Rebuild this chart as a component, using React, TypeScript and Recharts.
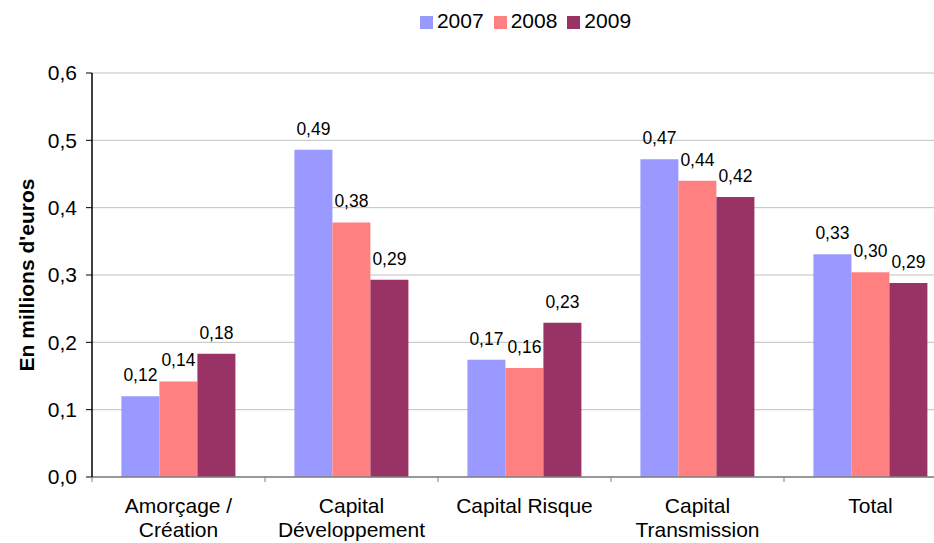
import { BarChart, Bar, XAxis, YAxis, CartesianGrid, Legend, LabelList } from "recharts";

const categories = [
  "Amorçage /\nCréation",
  "Capital\nDéveloppement",
  "Capital Risque",
  "Capital\nTransmission",
  "Total",
];
const values2007 = [0.12, 0.486, 0.174, 0.472, 0.331];
const values2008 = [0.142, 0.378, 0.162, 0.44, 0.304];
const values2009 = [0.183, 0.293, 0.229, 0.416, 0.288];
const yTicks = [0, 0.1, 0.2, 0.3, 0.4, 0.5, 0.6];

const chartData = categories.map((name, i) => ({
  name,
  y2007: values2007[i],
  y2008: values2008[i],
  y2009: values2009[i],
}));

const FONT = "Arial, 'Liberation Sans', sans-serif";
const CHART_W = 960;
const CHART_H = 543;
const MARGIN = { top: 73, right: 3, left: 0, bottom: 6 };
const Y_W = 92;
const BAND = (CHART_W - MARGIN.left - MARGIN.right - Y_W) / categories.length;

const fr = (v: number, d: number) => v.toFixed(d).replace(".", ",");

function CategoryTick(props: any) {
  const { x, y, payload } = props;
  const lines = String(payload.value).split("\n");
  return (
    <g>
      <line x1={x - BAND / 2} x2={x - BAND / 2} y1={y} y2={y + 5} stroke="#808080" />
      <text x={x} y={y} textAnchor="middle" fontSize={21} fontFamily={FONT} fill="#000">
        {lines.map((l, i) => (
          <tspan key={i} x={x} y={y + 36 + i * 24}>
            {l}
          </tspan>
        ))}
      </text>
    </g>
  );
}

function ValueLabel(props: any) {
  const { x, y, width, value } = props;
  return (
    <text x={x + width / 2} y={y - 15} textAnchor="middle" fontSize={17.5} fontFamily={FONT} fill="#000">
      {fr(Number(value), 2)}
    </text>
  );
}

function YTitle(props: any) {
  const vb = props.viewBox || { x: 0, y: 73, height: 404 };
  const cx = 26;
  const cy = vb.y + vb.height / 2;
  return (
    <text
      x={cx}
      y={cy}
      transform={`rotate(-90, ${cx}, ${cy})`}
      textAnchor="middle"
      dominantBaseline="central"
      fontSize={21}
      fontWeight="bold"
      fontFamily={FONT}
      fill="#000"
    >
      En millions d'euros
    </text>
  );
}

export default function App() {
  return (
    <div
      style={{
        position: "absolute",
        left: 0,
        top: 0,
        width: 934,
        height: 543,
        overflow: "hidden",
        background: "#fff",
      }}
    >
      <BarChart
        width={CHART_W}
        height={CHART_H}
        data={chartData}
        margin={MARGIN}
        barCategoryGap="17%"
        barGap={0}
        style={{ fontFamily: FONT }}
      >
        <CartesianGrid stroke="#c0c0c0" vertical={false} />
        <XAxis
          dataKey="name"
          interval={0}
          height={60}
          tickSize={0}
          tickMargin={0}
          tick={<CategoryTick />}
          axisLine={{ stroke: "#808080", strokeWidth: 1.5 }}
        />
        <YAxis
          width={Y_W}
          domain={[0, 0.6]}
          ticks={yTicks}
          tickFormatter={(v: number) => fr(v, 1)}
          tickSize={6}
          tickMargin={9}
          tick={{ fill: "#000", fontSize: 21, fontFamily: FONT }}
          tickLine={{ stroke: "#000" }}
          axisLine={{ stroke: "#000", strokeWidth: 1.5 }}
          label={<YTitle />}
        />
        <Legend
          verticalAlign="middle"
          align="center"
          layout="horizontal"
          iconType="square"
          iconSize={13}
          wrapperStyle={{ top: 9, left: Y_W + 6, width: CHART_W - Y_W - MARGIN.right, fontSize: 21, fontFamily: FONT }}
          formatter={(v: string) => <span style={{ color: "#000" }}>{v}</span>}
        />
        <Bar dataKey="y2007" name="2007" fill="#9999ff" isAnimationActive={false}>
          <LabelList dataKey="y2007" content={<ValueLabel />} />
        </Bar>
        <Bar dataKey="y2008" name="2008" fill="#ff8080" isAnimationActive={false}>
          <LabelList dataKey="y2008" content={<ValueLabel />} />
        </Bar>
        <Bar dataKey="y2009" name="2009" fill="#993366" isAnimationActive={false}>
          <LabelList dataKey="y2009" content={<ValueLabel />} />
        </Bar>
      </BarChart>
    </div>
  );
}
